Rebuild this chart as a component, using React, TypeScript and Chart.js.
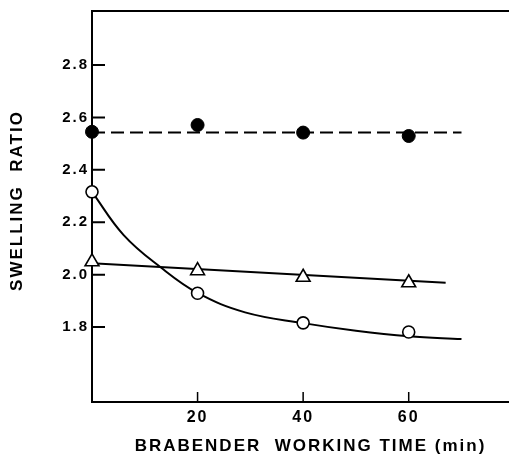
import React, { useEffect, useRef } from "react";
import { Chart, registerables } from "chart.js";

Chart.register(...registerables);

// ---- data ----
const xTickValues = [20, 40, 60];
const yTickValues = [1.8, 2.0, 2.2, 2.4, 2.6, 2.8];
const times = [0, 20, 40, 60];
const filledValues = [2.545, 2.571, 2.542, 2.529];
const openValues = [2.316, 1.929, 1.816, 1.781];
const triangleValues = [2.049, 2.015, 1.99, 1.969];

const filledFitX = [0, 70];
const filledFitY = [2.542, 2.542];
const openFitX = [0, 6, 13, 20, 29, 40, 50, 60, 70];
const openFitY = [2.316, 2.151, 2.028, 1.93, 1.856, 1.815, 1.786, 1.765, 1.754];
const triFitX = [0, 67];
const triFitY = [2.043, 1.969];

const xTitle = "BRABENDER  WORKING TIME (min)";
const yTitle = "SWELLING  RATIO";

const FONT = "'Liberation Sans', Arial, Helvetica, sans-serif";

const toPoints = (xs: number[], ys: number[]) => xs.map((x, i) => ({ x, y: ys[i] }));

const framePlugin = {
  id: "frame",
  beforeDraw(chart: any) {
    chart.ctx.letterSpacing = "2px";
  },
  beforeDatasetsDraw(chart: any) {
    const { ctx, chartArea, scales } = chart;
    const { left, top, right, bottom } = chartArea;
    ctx.save();
    ctx.strokeStyle = "#000";
    ctx.lineWidth = 2;
    ctx.beginPath();
    ctx.moveTo(right + 2, top);
    ctx.lineTo(left, top);
    ctx.lineTo(left, bottom);
    ctx.lineTo(right + 2, bottom);
    ctx.stroke();
    ctx.beginPath();
    yTickValues.forEach((v) => {
      const py = scales.y.getPixelForValue(v);
      ctx.moveTo(left, py);
      ctx.lineTo(left + 13, py);
    });
    ctx.stroke();
    ctx.lineWidth = 1.5;
    ctx.beginPath();
    xTickValues.forEach((v) => {
      const px = scales.x.getPixelForValue(v);
      ctx.moveTo(px, bottom);
      ctx.lineTo(px, bottom - 10);
    });
    ctx.stroke();
    ctx.restore();
  },
  afterDraw(chart: any) {
    const { ctx } = chart;
    ctx.save();
    ctx.fillStyle = "#000";
    ctx.font = `bold 17px ${FONT}`;
    ctx.letterSpacing = "2px";
    ctx.textAlign = "center";
    ctx.textBaseline = "middle";
    ctx.fillText(xTitle, 310.5, 446);
    ctx.translate(17, 201.5);
    ctx.rotate(-Math.PI / 2);
    ctx.fillText(yTitle, 1, 0);
    ctx.restore();
    ctx.letterSpacing = "0px";
  },
};

export default function App() {
  const ref = useRef<HTMLCanvasElement>(null);

  useEffect(() => {
    if (!ref.current) return;
    const chart = new Chart(ref.current, {
      type: "scatter",
      data: {
        datasets: [
          {
            data: toPoints(times, filledValues),
            showLine: false,
            pointStyle: "circle",
            pointRadius: 6.5,
            pointBackgroundColor: "#000",
            pointBorderColor: "#000",
            pointBorderWidth: 1,
            clip: false,
          },
          {
            data: toPoints(times, openValues),
            showLine: false,
            pointStyle: "circle",
            pointRadius: 6,
            pointBackgroundColor: "#fff",
            pointBorderColor: "#000",
            pointBorderWidth: 1.6,
            clip: false,
          },
          {
            data: toPoints(times, triangleValues),
            showLine: false,
            pointStyle: "triangle",
            pointRadius: 8,
            pointBackgroundColor: "#fff",
            pointBorderColor: "#000",
            pointBorderWidth: 1.6,
            clip: false,
          },
          {
            data: toPoints(filledFitX, filledFitY),
            showLine: true,
            borderColor: "#000",
            borderWidth: 2,
            borderDash: [13, 6],
            pointRadius: 0,
            clip: false,
          },
          {
            data: toPoints(openFitX, openFitY),
            showLine: true,
            borderColor: "#000",
            borderWidth: 2,
            tension: 0.4,
            pointRadius: 0,
            clip: false,
          },
          {
            data: toPoints(triFitX, triFitY),
            showLine: true,
            borderColor: "#000",
            borderWidth: 2,
            pointRadius: 0,
            clip: false,
          },
        ],
      } as any,
      options: {
        animation: false,
        responsive: false,
        events: [],
        layout: { autoPadding: false, padding: { top: 11, left: 0, right: 0, bottom: 0 } },
        plugins: { legend: { display: false }, tooltip: { enabled: false } },
        scales: {
          x: {
            type: "linear",
            min: 0,
            max: 79,
            grid: { display: false, drawTicks: false },
            border: { display: false },
            afterBuildTicks: (s: any) => {
              s.ticks = xTickValues.map((value) => ({ value }));
            },
            afterFit: (s: any) => {
              s.height = 54;
              s.paddingLeft = 0;
              s.paddingRight = 0;
            },
            ticks: {
              color: "#000",
              padding: 6,
              maxRotation: 0,
              autoSkip: false,
              font: { family: FONT, size: 16, weight: "bold" },
              callback: (v: any) => String(v),
            },
          },
          y: {
            type: "linear",
            min: 1.514,
            max: 3.006,
            grid: { display: false, drawTicks: false },
            border: { display: false },
            afterBuildTicks: (s: any) => {
              s.ticks = yTickValues.map((value) => ({ value }));
            },
            afterFit: (s: any) => {
              s.width = 92;
              s.paddingTop = 0;
              s.paddingBottom = 0;
            },
            ticks: {
              color: "#000",
              padding: 3,
              autoSkip: false,
              font: { family: FONT, size: 15, weight: "bold" },
              callback: (v: any) => Number(v).toFixed(1),
            },
          },
        },
      } as any,
      plugins: [framePlugin],
    });
    return () => chart.destroy();
  }, []);

  return (
    <div style={{ position: "absolute", left: 0, top: 0, width: 509, height: 456, background: "#fff" }}>
      <canvas ref={ref} width={509} height={456} style={{ display: "block" }} />
    </div>
  );
}
